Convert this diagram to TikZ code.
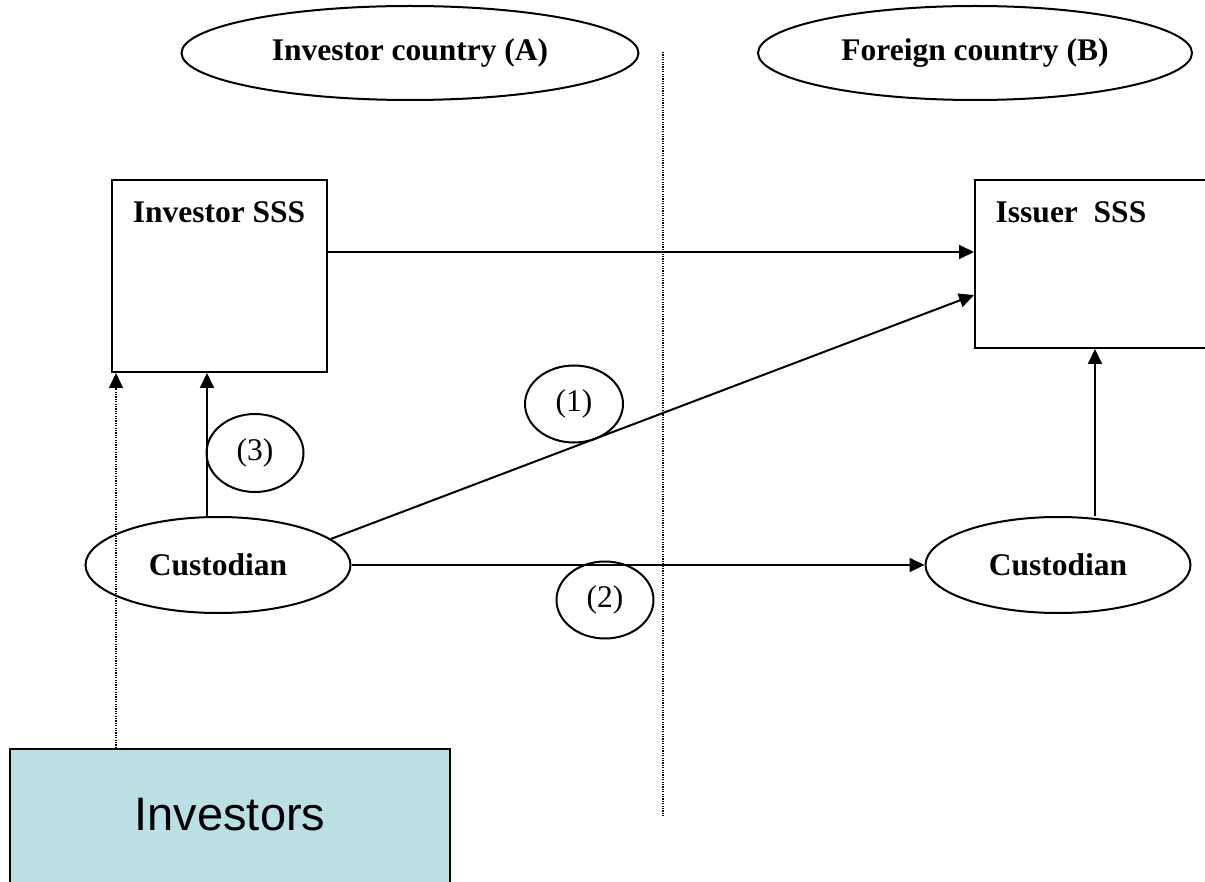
\documentclass[tikz,border=0pt]{standalone}
\usepackage{fontspec}
\setmainfont{Liberation Serif}
\newfontfamily\arialfont{Liberation Sans}
\usetikzlibrary{shapes.geometric, calc, arrows.meta}

\begin{document}
\begin{tikzpicture}[x=1pt,y=-1pt,line width=2pt,
    txt/.style={font=\fontsize{31.5}{38}\selectfont},
    btxt/.style={font=\fontsize{31.5}{38}\selectfont\bfseries},
    oval/.style={draw, ellipse, inner sep=0pt},
    sssbox/.style={draw, rectangle, inner sep=0pt},
    arr/.style={-{Triangle[length=15pt,width=14pt]}},
    dotline/.style={line width=1.2pt, dash pattern=on 1.2pt off 1.2pt}]
      \useasboundingbox (0,0) rectangle (1205,882);
      \clip (0,0) rectangle (1205,882);

      \node[oval, btxt, minimum width=457pt, minimum height=94pt] (ctryA) at (410,53) {Investor country (A)};
      \node[oval, btxt, minimum width=434pt, minimum height=94pt] (ctryB) at (975,53) {Foreign country (B)};

      \coordinate (dtop) at (663,52);
      \coordinate (dbot) at (663,816);
      \draw[dotline] (dtop)--(dbot);

      \node[sssbox, minimum width=215pt, minimum height=192pt] (isss) at (219.5,276) {};
      \node[btxt] (isssLbl) at (219,212) {Investor SSS};
      \node[sssbox, minimum width=240pt, minimum height=168pt] (esss) at (1095,264) {};
      \node[btxt] (esssLbl) at (1071,212) {Issuer\ \ SSS};

      \node[oval, btxt, minimum width=265pt, minimum height=96pt] (cust) at (218,565) {Custodian};
      \node[oval, btxt, minimum width=265pt, minimum height=96pt] (fcust) at (1058,565) {Custodian};

      \node[oval, txt, minimum width=98pt, minimum height=77pt] (one) at (574,404) {(1)};
      \node[oval, txt, minimum width=97pt, minimum height=77pt] (two) at (605,600) {(2)};
      \node[oval, txt, minimum width=97pt, minimum height=78pt] (three) at (255,453) {(3)};

      \node[sssbox, fill={rgb,255:red,187;green,224;blue,227}, minimum width=440pt, minimum height=160pt, anchor=north] (inv) at (230,748) {};
      \node[font=\arialfont\fontsize{47}{56}\selectfont] (invLbl) at (230,815) {Investors};

      \coordinate (s1) at ([yshift=24pt]isss.east);
      \draw[arr] (s1)--(s1 -| esss.west);
      \draw[arr] (cust.13)--([yshift=-31pt]esss.west);
      \draw[arr] (cust.east)--(fcust.west);
      \coordinate (c1) at ([xshift=-11pt]cust.north);
      \draw[arr] (c1)--(c1 |- isss.south);
      \draw[arr] (esss.south |- fcust.north)--(esss.south);
      \coordinate (p1) at ([xshift=5pt]isss.south west);
      \draw[dotline, arr] (inv.north -| p1)--(p1);
    \end{tikzpicture}
\end{document}
